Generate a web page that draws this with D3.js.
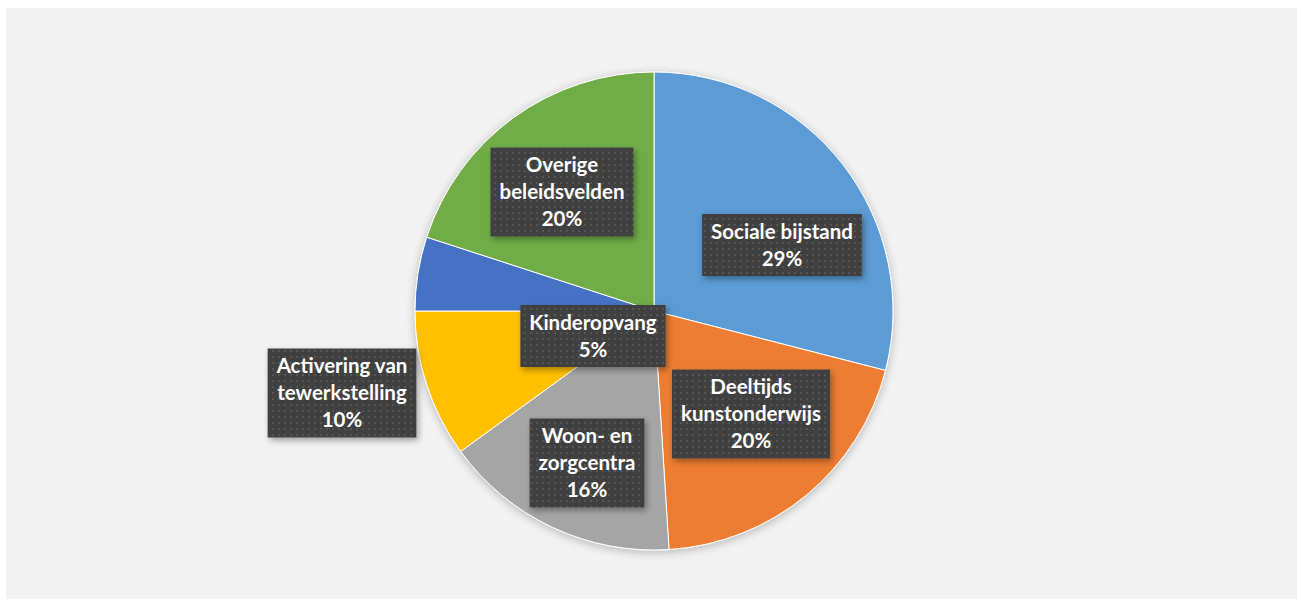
<!DOCTYPE html>
<html><head><meta charset="utf-8">
<script src="https://cdn.jsdelivr.net/npm/d3@7"></script>
<style>html,body{margin:0;padding:0;background:#fff;}svg{display:block;}</style>
</head><body>
<svg id="chart" width="1303" height="607"></svg>
<script>
const categories = ["Sociale bijstand", "Deeltijds kunstonderwijs", "Woon- en zorgcentra", "Activering van tewerkstelling", "Kinderopvang", "Overige beleidsvelden"];
const values = [29, 20, 16, 10, 5, 20];
const labelLines = [["Sociale bijstand"], ["Deeltijds", "kunstonderwijs"], ["Woon- en", "zorgcentra"], ["Activering van", "tewerkstelling"], ["Kinderopvang"], ["Overige", "beleidsvelden"]];
const colors = ["#5b9bd5", "#ed7d31", "#a5a5a5", "#ffc000", "#4472c4", "#70ad47"];
// label box centers (x,y) in px
const labelPos = [[782, 245], [751, 414], [587, 463], [342, 393], [593, 336], [562, 192]];

const svg = d3.select("#chart");
svg.append("rect").attr("x", 6).attr("y", 8).attr("width", 1291).attr("height", 591).attr("fill", "#f2f2f2");

const defs = svg.append("defs");
const pat = defs.append("pattern").attr("id", "dots").attr("width", 6).attr("height", 6).attr("patternUnits", "userSpaceOnUse");
pat.append("rect").attr("width", 6).attr("height", 6).attr("fill", "#404040");
pat.append("rect").attr("x", 2).attr("y", 2).attr("width", 2).attr("height", 2).attr("fill", "#555555");
const sh = defs.append("filter").attr("id", "shadow").attr("x", "-20%").attr("y", "-20%").attr("width", "140%").attr("height", "140%");
sh.append("feGaussianBlur").attr("in", "SourceAlpha").attr("stdDeviation", 3).attr("result", "b");
sh.append("feOffset").attr("in", "b").attr("dx", 2).attr("dy", 3).attr("result", "o");
sh.append("feComponentTransfer").attr("in", "o").attr("result", "s").append("feFuncA").attr("type", "linear").attr("slope", 0.35);
const m = sh.append("feMerge"); m.append("feMergeNode").attr("in", "s"); m.append("feMergeNode").attr("in", "SourceGraphic");
const psh = defs.append("filter").attr("id", "pshadow").attr("x", "-20%").attr("y", "-20%").attr("width", "140%").attr("height", "140%");
psh.append("feGaussianBlur").attr("in", "SourceAlpha").attr("stdDeviation", 5).attr("result", "b");
psh.append("feOffset").attr("in", "b").attr("dx", 0).attr("dy", 2).attr("result", "o");
psh.append("feComponentTransfer").attr("in", "o").attr("result", "s").append("feFuncA").attr("type", "linear").attr("slope", 0.25);
const m2 = psh.append("feMerge"); m2.append("feMergeNode").attr("in", "s"); m2.append("feMergeNode").attr("in", "SourceGraphic");

const cx = 654, cy = 311, r = 239;
const data = categories.map((c, i) => ({cat: c, value: values[i], i}));
const pie = d3.pie().value(d => d.value).sort(null);
const arc = d3.arc().innerRadius(0).outerRadius(r);
const g = svg.append("g").attr("transform", `translate(${cx},${cy})`).attr("filter", "url(#pshadow)");
g.selectAll("path").data(pie(data)).join("path")
  .attr("d", arc).attr("fill", d => colors[d.data.i]).attr("stroke", "#fff").attr("stroke-width", 1);

const lineH = 27, fs = 20.5;
const lg = svg.append("g");
data.forEach((d, i) => {
  const lines = labelLines[i].concat([d.value + "%"]);
  const [x, y] = labelPos[i];
  const grp = lg.append("g");
  const txt = grp.append("text").attr("font-family", "Lato, 'Open Sans', sans-serif").attr("font-weight", "bold")
    .attr("font-size", fs).attr("fill", "#fff").attr("text-anchor", "middle");
  const y0 = y - (lines.length - 1) * lineH / 2;
  lines.forEach((l, k) => txt.append("tspan").attr("x", x).attr("y", y0 + k * lineH).attr("dy", "0.35em").text(l));
  let maxW = 0;
  txt.selectAll("tspan").each(function() { maxW = Math.max(maxW, this.getComputedTextLength()); });
  const bw = maxW + 18, bh = lines.length * lineH + 8;
  grp.insert("rect", "text").attr("x", x - bw / 2).attr("y", y - bh / 2).attr("width", bw).attr("height", bh)
    .attr("fill", "url(#dots)").attr("filter", "url(#shadow)");
});
</script>
</body></html>
